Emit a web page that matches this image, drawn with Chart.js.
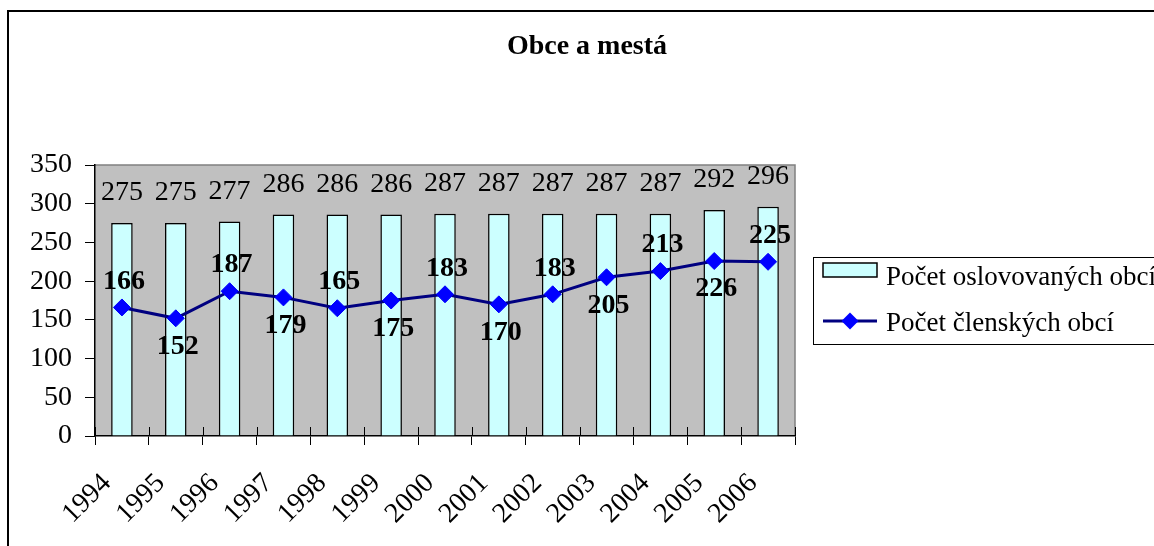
<!DOCTYPE html>
<html>
<head>
<meta charset="utf-8">
<script src="https://cdn.jsdelivr.net/npm/chart.js@4.4.0/dist/chart.umd.min.js"></script>
<style>
  html, body { margin: 0; padding: 0; background: #fff; overflow: hidden; }
  #wrap { position: absolute; left: 0; top: 0; width: 1174px; height: 546px; }
</style>
</head>
<body>
<div id="wrap"><canvas id="myChart"></canvas></div>
<script>
const years = ['1994', '1995', '1996', '1997', '1998', '1999', '2000', '2001', '2002', '2003', '2004', '2005', '2006'];
const oslovovane = [275, 275, 277, 286, 286, 286, 287, 287, 287, 287, 287, 292, 296];
const clenske = [166, 152, 187, 179, 165, 175, 183, 170, 183, 205, 213, 226, 225];
const yMax = 350;
const yStep = 50;

const FONT = 'Liberation Serif';

// sivé pozadie grafu a rám okolo celého obrázku
const backdrop = {
    id: 'backdrop',
    beforeDraw(chart) {
        const {ctx, chartArea: a} = chart;
        ctx.save();
        ctx.fillStyle = '#fff';
        ctx.fillRect(0, 0, chart.width, chart.height);
        ctx.strokeStyle = '#000';
        ctx.lineWidth = 2;
        ctx.strokeRect(8, 11, chart.width - 16, chart.height + 20);
        ctx.fillStyle = '#c0c0c0';
        ctx.fillRect(a.left, a.top, a.right - a.left, a.bottom - a.top);
        ctx.strokeStyle = '#808080';
        ctx.lineWidth = 1.5;
        ctx.beginPath();
        ctx.moveTo(a.left, a.top);
        ctx.lineTo(a.right, a.top);
        ctx.lineTo(a.right, a.bottom);
        ctx.stroke();
        ctx.restore();
    }
};

// popisky hodnôt nad stĺpcami a pri bodoch
const valueLabels = {
    id: 'valueLabels',
    afterDatasetsDraw(chart) {
        const {ctx} = chart;
        ctx.save();
        ctx.fillStyle = '#000';
        ctx.textAlign = 'center';
        ctx.textBaseline = 'middle';
        ctx.font = `28px "${FONT}"`;
        chart.getDatasetMeta(0).data.forEach((bar, i) => {
            ctx.fillText(String(oslovovane[i]), bar.x, bar.y - 30);
        });
        ctx.font = `bold 28px "${FONT}"`;
        chart.getDatasetMeta(1).data.forEach((pt, i) => {
            const dy = i % 2 === 0 ? -26 : 28;
            ctx.fillText(String(clenske[i]), pt.x + 2, pt.y + dy);
        });
        ctx.restore();
    },
    afterDraw(chart) {
        // krátke značky osi x aj dovnútra grafu
        const {ctx, chartArea: a, scales: {x}} = chart;
        const half = (x.getPixelForValue(1) - x.getPixelForValue(0)) / 2;
        ctx.save();
        ctx.strokeStyle = '#000';
        ctx.lineWidth = 1;
        for (let i = 0; i <= years.length; i++) {
            const px = Math.round(x.getPixelForValue(i) - half) + 0.5;
            ctx.beginPath();
            ctx.moveTo(px, a.bottom - 9);
            ctx.lineTo(px, a.bottom);
            ctx.stroke();
        }
        ctx.restore();
    }
};

// legenda s rámikom
const boxLegend = {
    id: 'boxLegend',
    afterDraw(chart) {
        const {ctx, chartArea: a} = chart;
        const ds = chart.data.datasets;
        const left = a.right + 18;
        const top = 257;
        ctx.save();
        ctx.strokeStyle = '#000';
        ctx.lineWidth = 1;
        ctx.strokeRect(left + 0.5, top + 0.5, 420, 87);

        ctx.fillStyle = '#ccffff';
        ctx.fillRect(left + 10, top + 6, 54, 14);
        ctx.lineWidth = 1.5;
        ctx.strokeRect(left + 10, top + 6, 54, 14);

        ctx.strokeStyle = '#000080';
        ctx.lineWidth = 3;
        ctx.beginPath();
        ctx.moveTo(left + 10, top + 64);
        ctx.lineTo(left + 64, top + 64);
        ctx.stroke();
        ctx.fillStyle = '#0000ff';
        ctx.beginPath();
        ctx.moveTo(left + 37, top + 55.5);
        ctx.lineTo(left + 45.5, top + 64);
        ctx.lineTo(left + 37, top + 72.5);
        ctx.lineTo(left + 28.5, top + 64);
        ctx.closePath();
        ctx.fill();

        ctx.fillStyle = '#000';
        ctx.textAlign = 'left';
        ctx.textBaseline = 'alphabetic';
        ctx.font = `27px "${FONT}"`;
        ctx.fillText(ds[0].label, left + 73, top + 28);
        ctx.fillText(ds[1].label, left + 73, top + 74);
        ctx.restore();
    }
};

const ctx = document.getElementById('myChart').getContext('2d');
const myChart = new Chart(ctx, {
    type: 'bar',
    data: {
        labels: years,
        datasets: [
            {
                type: 'bar',
                label: 'Počet oslovovaných obcí',
                data: oslovovane,
                backgroundColor: '#ccffff',
                borderColor: '#000',
                borderWidth: 1.5,
                barPercentage: 0.4,
                categoryPercentage: 1,
                order: 2
            },
            {
                type: 'line',
                label: 'Počet členských obcí',
                data: clenske,
                borderColor: '#000080',
                borderWidth: 3,
                pointStyle: 'rectRot',
                pointRadius: 8.5,
                pointBackgroundColor: '#0000ff',
                pointBorderColor: '#0000ff',
                pointBorderWidth: 1,
                tension: 0,
                fill: false,
                order: 1
            }
        ]
    },
    options: {
        responsive: true,
        maintainAspectRatio: false,
        animation: false,
        devicePixelRatio: 1,
        layout: {padding: 0},
        plugins: {
            legend: {display: false},
            tooltip: {enabled: false},
            title: {
                display: true,
                text: 'Obce a mestá',
                color: '#000',
                font: {family: FONT, size: 28, weight: 'bold'},
                padding: {top: 30, bottom: 101.4}
            }
        },
        scales: {
            x: {
                grid: {drawOnChartArea: false, tickLength: 9, color: '#000', tickColor: '#000'},
                border: {color: '#000', width: 1.5},
                ticks: {
                    color: '#000',
                    font: {family: FONT, size: 28},
                    minRotation: 45,
                    maxRotation: 45,
                    labelOffset: -15,
                    padding: 22,
                    autoSkip: false
                },
                afterFit: s => { s.height = 110; }
            },
            y: {
                min: 0,
                max: yMax,
                grid: {drawOnChartArea: false, tickLength: 10, color: '#000', tickColor: '#000'},
                border: {color: '#000', width: 1.5},
                ticks: {
                    stepSize: yStep,
                    color: '#000',
                    font: {family: FONT, size: 28},
                    padding: 13
                },
                afterFit: s => { s.width = 95; }
            },
            spacer: {
                position: 'right',
                display: true,
                grid: {display: false},
                border: {display: false},
                ticks: {display: false},
                afterFit: s => { s.width = 379; }
            }
        }
    },
    plugins: [backdrop, valueLabels, boxLegend]
});
</script>
</body>
</html>
